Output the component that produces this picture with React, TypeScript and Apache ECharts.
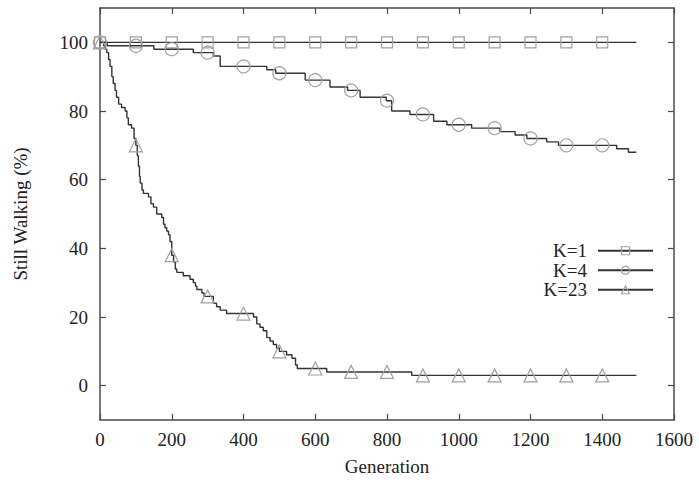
import React, { useEffect, useRef } from "react";
import * as echarts from "echarts";

const seriesNames = ["K=1", "K=4", "K=23"];
const seriesSymbols = ["rect", "circle", "triangle"];
const symbolSizes = [11, 13, 13];

const yTicks = [0, 20, 40, 60, 80, 100];

// step curves: [generation, % still walking], value holds until next point
const k1Steps = [[0, 100], [1495, 100]];
const k4Steps = [
  [0, 100], [20, 99], [150, 98], [260, 97], [316, 96], [335, 93], [465, 92], [490, 91],
  [572, 89], [641, 87], [690, 86], [725, 84], [798, 83], [813, 80], [864, 79], [930, 77],
  [967, 76], [1036, 75], [1115, 74], [1157, 73], [1190, 72], [1245, 71], [1278, 70],
  [1440, 69], [1473, 68], [1495, 68],
];
const k23Steps = [
  [0, 100], [10, 99], [15, 98], [19, 97], [24, 95], [28, 93], [33, 90], [37, 88], [42, 86],
  [46, 84], [52, 82], [60, 81], [70, 80], [75, 78], [79, 76], [88, 75], [95, 72], [100, 70],
  [104, 67], [107, 64], [110, 61], [112, 59], [117, 57], [121, 56], [135, 55], [142, 53],
  [149, 52], [158, 50], [172, 49], [177, 47], [181, 46], [186, 45], [191, 44], [195, 42],
  [200, 38], [205, 36], [210, 34], [214, 33], [232, 32], [251, 31], [260, 30], [266, 29],
  [270, 28], [284, 27], [290, 26], [316, 24], [325, 23], [335, 22], [353, 21], [428, 20],
  [437, 18], [446, 17], [455, 16], [465, 14], [474, 13], [483, 12], [492, 11], [500, 10],
  [520, 9], [535, 8], [545, 6], [550, 5], [632, 4], [869, 3], [1495, 3],
];

// markers every 100 generations
const k1Marks = [
  [0, 100], [100, 100], [200, 100], [300, 100], [400, 100], [500, 100], [600, 100], [700, 100],
  [800, 100], [900, 100], [1000, 100], [1100, 100], [1200, 100], [1300, 100], [1400, 100],
];
const k4Marks = [
  [0, 100], [100, 99], [200, 98], [300, 97], [400, 93], [500, 91], [600, 89], [700, 86],
  [800, 83], [900, 79], [1000, 76], [1100, 75], [1200, 72], [1300, 70], [1400, 70],
];
const k23Marks = [
  [0, 100], [100, 70], [200, 38], [300, 26], [400, 21], [500, 10], [600, 5], [700, 4],
  [800, 4], [900, 3], [1000, 3], [1100, 3], [1200, 3], [1300, 3], [1400, 3],
];

const allSteps = [k1Steps, k4Steps, k23Steps];
const allMarks = [k1Marks, k4Marks, k23Marks];

function buildData(steps: number[][], marks: number[][]) {
  const items: { value: number[]; o: number }[] = [];
  steps.forEach((p) => items.push({ value: p, o: 0 }));
  marks.forEach((p) => items.push({ value: p, o: 1 }));
  items.sort((a, b) => a.value[0] - b.value[0] || a.o - b.o);
  return items.map((it) => (it.o === 0 ? { value: it.value, symbol: "none" } : { value: it.value }));
}

const FONT = "'Liberation Serif', 'DejaVu Serif', serif";
const AXIS_COLOR = "#4a4a4a";
const TEXT_COLOR = "#222";
const MARK_COLOR = "#a0a0a0";
const FS = 19;

export default function App() {
  const ref = useRef<HTMLDivElement>(null);
  useEffect(() => {
    if (!ref.current) return;
    const chart = echarts.init(ref.current, undefined, { renderer: "svg" });
    const axisLine = { show: true, onZero: false, lineStyle: { color: AXIS_COLOR, width: 1.5 } };
    const tick = { show: true, inside: true, length: 6, lineStyle: { color: AXIS_COLOR, width: 1.2 } };
    const label = { fontFamily: FONT, fontSize: FS, color: TEXT_COLOR, formatter: (v: number) => String(v) };
    chart.setOption({
      animation: false,
      backgroundColor: "#fff",
      textStyle: { fontFamily: FONT },
      grid: { left: 100, right: 25, top: 8, bottom: 64 },
      legend: {
        orient: "vertical",
        right: 40,
        top: 236,
        align: "right",
        itemWidth: 55,
        itemHeight: 10,
        itemGap: 0,
        itemStyle: { color: "rgba(255,255,255,0)", borderColor: MARK_COLOR, borderWidth: 1.2 },
        textStyle: { fontFamily: FONT, fontSize: FS, lineHeight: 19.5, color: TEXT_COLOR, padding: [0, 6, 0, 0] },
        data: seriesNames,
      },
      xAxis: [
        {
          type: "value", min: 0, max: 1600, interval: 200, position: "bottom",
          axisLine, axisTick: tick, splitLine: { show: false },
          axisLabel: { ...label, margin: 10 },
          name: "Generation", nameLocation: "middle", nameGap: 37,
          nameTextStyle: { fontFamily: FONT, fontSize: FS, color: TEXT_COLOR },
        },
        {
          type: "value", min: 0, max: 1600, interval: 200, position: "top",
          axisLine, axisTick: tick, splitLine: { show: false }, axisLabel: { show: false },
        },
      ],
      yAxis: [
        {
          type: "value", min: -10, max: 110, position: "left",
          axisLine, axisTick: { ...tick, customValues: yTicks }, splitLine: { show: false },
          axisLabel: { ...label, margin: 12, customValues: yTicks },
          name: "Still Walking (%)", nameLocation: "middle", nameGap: 70,
          nameTextStyle: { fontFamily: FONT, fontSize: FS, color: TEXT_COLOR },
        },
        {
          type: "value", min: -10, max: 110, position: "right",
          axisLine, axisTick: { ...tick, customValues: yTicks }, splitLine: { show: false },
          axisLabel: { show: false },
        },
      ],
      series: seriesNames.map((name, i) => ({
        name,
        type: "line",
        step: "end",
        xAxisIndex: 0,
        yAxisIndex: 0,
        data: buildData(allSteps[i], allMarks[i]),
        symbol: seriesSymbols[i],
        symbolSize: symbolSizes[i],
        showAllSymbol: true,
        lineStyle: { color: "#333", width: 1.4 },
        itemStyle: { color: "rgba(255,255,255,0)", borderColor: MARK_COLOR, borderWidth: 1.2 },
        emphasis: { disabled: true },
        z: 2 + i,
      })),
    });
    return () => chart.dispose();
  }, []);
  return (
    <div
      ref={ref}
      style={{ position: "absolute", left: 0, top: 0, width: 699, height: 484, background: "#fff" }}
    />
  );
}
